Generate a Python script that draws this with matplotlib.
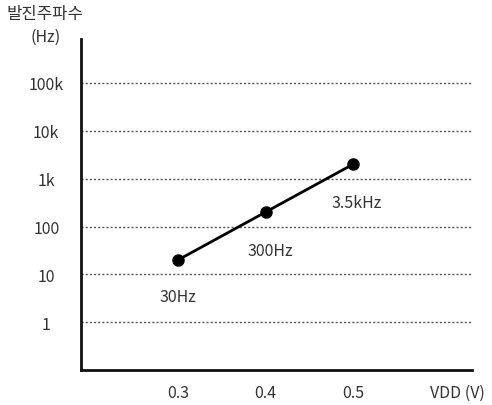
import matplotlib
matplotlib.use("Agg")
import matplotlib.pyplot as plt

plt.rcParams["font.family"] = ["Noto Sans CJK KR", "DejaVu Sans"]

# data
vdd = [0.3, 0.4, 0.5]
freq = [20, 200, 2000]
point_labels = ["30Hz", "300Hz", "3.5kHz"]
label_offsets = [(0, -37), (5, -38), (4, -38)]  # px offset of each label from its point

y_ticks = [1, 10, 100, 1000, 10000, 100000]
y_tick_labels = ["1", "10", "100", "1k", "10k", "100k"]
x_ticks = [0.3, 0.4, 0.5]
x_tick_labels = ["0.3", "0.4", "0.5"]

text_color = "#333333"
fs = 11.5

fig = plt.figure(figsize=(4.92, 4.06), dpi=100)
ax = fig.add_axes([0.1646, 0.0862, 0.7947, 0.8153])

ax.set_yscale("log")
ax.set_xlim(0.189, 0.636)
ax.set_ylim(0.1, 10 ** 5.92)

for y in y_ticks:
    ax.axhline(y, color="#555555", linestyle=(0, (1.5, 1.5)), linewidth=1.0, zorder=1)

ax.plot(vdd, freq, color="black", linewidth=2, marker="o", markersize=8, zorder=3)

for x, y, lab, (dx, dy) in zip(vdd, freq, point_labels, label_offsets):
    ax.annotate(lab, (x, y), xytext=(dx * 0.72, dy * 0.72), textcoords="offset points",
                ha="center", va="center", fontsize=fs, color=text_color)

ax.set_yticks(y_ticks)
ax.set_yticklabels(y_tick_labels)
ax.minorticks_off()
ax.set_xticks(x_ticks)
ax.set_xticklabels(x_tick_labels)
for t in ax.get_yticklabels():
    t.set_horizontalalignment("center")
ax.tick_params(axis="y", length=0, pad=25, labelsize=fs, labelcolor=text_color)
ax.tick_params(axis="x", length=0, pad=10, labelsize=fs, labelcolor=text_color)

for side in ["top", "right"]:
    ax.spines[side].set_visible(False)
for side in ["left", "bottom"]:
    ax.spines[side].set_linewidth(2)
    ax.spines[side].set_color("#111111")

fig.text(45 / 492, 1 - 15 / 406, "발진주파수", ha="center", va="center", fontsize=12, color=text_color)
fig.text(46 / 492, 1 - 37 / 406, "(Hz)", ha="center", va="center", fontsize=fs, color=text_color)
fig.text(457 / 492, 1 - 393 / 406, "VDD (V)", ha="center", va="center", fontsize=fs, color=text_color)

fig.savefig("out.png", dpi=100)
